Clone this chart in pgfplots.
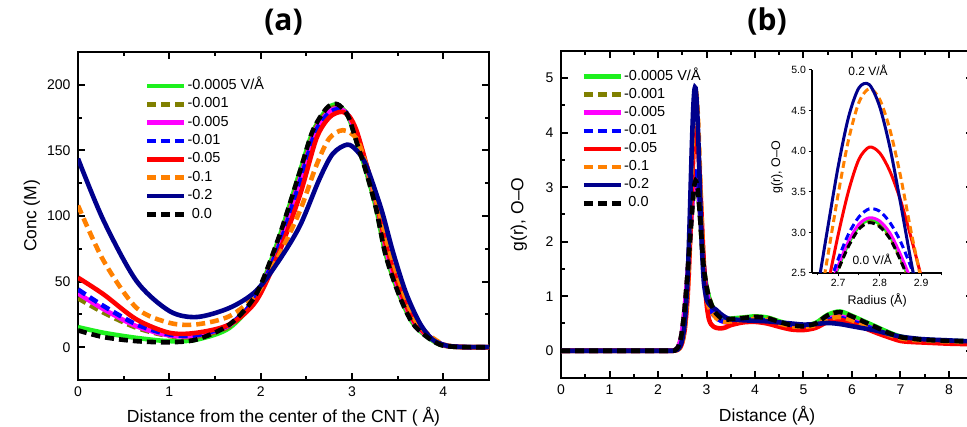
\documentclass[border=0pt]{standalone}
\usepackage{fontspec}
\setmainfont{Liberation Sans}
\newfontfamily\titlefont{Open Sans}
\usepackage{pgfplots}
\usepackage{pgfplotstable}
\pgfplotsset{compat=1.18}

\definecolor{cgreen}{RGB}{30,240,30}
\definecolor{colive}{RGB}{128,128,0}
\definecolor{cmag}{RGB}{255,0,255}
\definecolor{cblue}{RGB}{0,0,255}
\definecolor{cred}{RGB}{255,0,0}
\definecolor{corange}{RGB}{255,128,0}
\definecolor{cnavy}{RGB}{0,0,140}

% ---------------- left panel data ----------------
\pgfplotstableread{
x y
0 15.3
0.28 11
0.64 7.1
1.0 4.6
1.3 5.8
1.66 14.8
1.95 38.5
2.2 83
2.43 134
2.57 164
2.72 181
2.82 185
2.9 181.5
2.97 174
3.05 157
3.155 134
3.264 106
3.37 70.5
3.52 39.5
3.66 19
3.81 8.6
3.96 2.1
4.1 0.4
4.3 0
4.5 0
}\tLgreen
\pgfplotstableread{
x y
0 37.3
0.28 26.3
0.64 14.8
1.0 8.5
1.3 8
1.66 16
1.95 38
2.2 80
2.43 130
2.6 167
2.75 181
2.84 183
2.92 180
2.99 172
3.07 155
3.17 132
3.28 103
3.38 70
3.53 39
3.67 19
3.82 8.5
3.97 2
4.1 0.4
4.3 0
4.5 0
}\tLolive
\pgfplotstableread{
x y
0 41
0.28 29
0.64 16
1.0 9
1.3 9
1.66 17
1.95 38
2.2 78
2.43 128
2.6 165
2.75 179.5
2.85 182
2.93 179
3.0 171
3.08 155
3.18 132
3.29 103
3.39 70
3.54 39
3.68 19
3.83 8.5
3.98 2
4.1 0.5
4.3 0
4.5 0
}\tLmag
\pgfplotstableread{
x y
0 44
0.28 31.4
0.64 17.4
1.0 9.7
1.3 9.2
1.66 17.5
1.95 38
2.2 77
2.43 126
2.6 164
2.75 178.5
2.86 181.5
2.94 178.5
3.01 170
3.09 154
3.19 131
3.3 102
3.4 70
3.55 39
3.69 19
3.84 8.5
3.99 2
4.12 0.5
4.3 0
4.5 0
}\tLblue
\pgfplotstableread{
x y
0 53
0.28 40.3
0.64 21.2
1.0 11
1.3 11
1.66 17.4
1.95 35.2
2.2 72
2.43 116
2.61 159
2.75 175
2.88 179.4
2.97 176
3.05 165
3.155 140
3.27 110
3.38 76
3.53 43
3.67 21
3.82 9.5
3.97 2.5
4.1 0.5
4.3 0
4.5 0
}\tLred
\pgfplotstableread{
x y
0 108
0.28 65.9
0.64 30
1.0 18.6
1.3 17.4
1.66 23.7
1.95 40.3
2.2 70
2.43 104
2.61 138.6
2.75 159
2.9 165.4
3.05 159
3.155 139
3.28 108
3.4 76
3.55 44
3.69 21
3.84 9.5
3.99 2.5
4.12 0.5
4.3 0
4.5 0
}\tLorange
\pgfplotstableread{
x y
0 143.7
0.28 96.5
0.64 50.5
1.0 27.6
1.3 23
1.66 30
1.95 42.9
2.2 66
2.43 92.6
2.645 128.4
2.79 147.5
2.947 154.4
3.05 150
3.155 138.6
3.32 105.4
3.45 72.2
3.59 41.6
3.74 18.6
3.88 5.9
4.03 1.3
4.2 0.2
4.5 0
}\tLnavy
\pgfplotstableread{
x y
0 12.8
0.28 7.7
0.64 4.6
1.0 3.8
1.3 5.9
1.66 17.4
1.95 40.3
2.2 84
2.43 134
2.57 165
2.72 182
2.82 185.5
2.9 182
2.97 174
3.05 156.4
3.155 133.5
3.264 105.4
3.37 69.7
3.52 39
3.66 18.6
3.81 8.4
3.96 2
4.1 0.4
4.3 0
4.5 0
}\tLblack

% ---------------- right panel data ----------------
\pgfplotstableread{
x y
0 0
1 0
2 0
2.3 0
2.35 0.01
2.4 0.05
2.45 0.15
2.5 0.38
2.55 0.78
2.6 1.3
2.625 1.6
2.65 1.93
2.675 2.25
2.7 2.56
2.725 2.86
2.75 3.07
2.775 3.15
2.8 3.10
2.825 2.95
2.85 2.69
2.875 2.38
2.9 2.05
2.925 1.74
2.95 1.49
3.0 1.19
3.05 0.99
3.1 0.86
3.15 0.76
3.2 0.69
3.3 0.61
3.4 0.58
3.5 0.59
3.75 0.61
4.0 0.63
4.25 0.61
4.5 0.54
4.75 0.48
5.0 0.46
5.25 0.51
5.5 0.66
5.75 0.72
6.0 0.64
6.25 0.54
6.5 0.44
6.75 0.34
7.0 0.26
7.25 0.22
7.5 0.2
8.0 0.18
8.5 0.17
}\tRgreen
\pgfplotstableread{
x y
0 0
1 0
2 0
2.3 0
2.35 0.01
2.4 0.05
2.45 0.15
2.5 0.38
2.55 0.78
2.6 1.3
2.625 1.6
2.65 1.92
2.675 2.24
2.7 2.54
2.725 2.84
2.75 3.05
2.775 3.13
2.8 3.08
2.825 2.93
2.85 2.67
2.875 2.36
2.9 2.03
2.925 1.72
2.95 1.48
3.0 1.18
3.05 0.98
3.1 0.85
3.15 0.75
3.2 0.68
3.3 0.6
3.4 0.57
3.5 0.58
3.75 0.6
4.0 0.62
4.25 0.6
4.5 0.53
4.75 0.47
5.0 0.45
5.25 0.5
5.5 0.64
5.75 0.7
6.0 0.62
6.25 0.52
6.5 0.42
6.75 0.32
7.0 0.25
7.25 0.22
7.5 0.2
8.0 0.18
8.5 0.17
}\tRolive
\pgfplotstableread{
x y
0 0
1 0
2 0
2.3 0
2.35 0.01
2.4 0.05
2.45 0.15
2.5 0.38
2.55 0.78
2.6 1.3
2.625 1.62
2.65 1.95
2.675 2.27
2.7 2.59
2.725 2.89
2.75 3.10
2.775 3.18
2.8 3.14
2.825 2.99
2.85 2.73
2.875 2.42
2.9 2.08
2.925 1.75
2.95 1.47
3.0 1.12
3.05 0.9
3.1 0.78
3.15 0.68
3.2 0.62
3.3 0.55
3.4 0.52
3.5 0.52
3.75 0.54
4.0 0.55
4.25 0.53
4.5 0.47
4.75 0.42
5.0 0.41
5.25 0.45
5.5 0.58
5.75 0.63
6.0 0.56
6.25 0.47
6.5 0.38
6.75 0.29
7.0 0.21
7.25 0.18
7.5 0.17
8.0 0.15
8.5 0.14
}\tRmag
\pgfplotstableread{
x y
0 0
1 0
2 0
2.3 0
2.35 0.01
2.4 0.035
2.45 0.11
2.5 0.28
2.55 0.62
2.6 1.15
2.625 1.51
2.65 1.90
2.675 2.30
2.7 2.67
2.725 2.98
2.75 3.19
2.775 3.29
2.8 3.26
2.825 3.12
2.85 2.89
2.875 2.58
2.9 2.23
2.925 1.86
2.95 1.52
3.0 1.05
3.05 0.82
3.1 0.72
3.15 0.65
3.2 0.6
3.3 0.55
3.4 0.53
3.5 0.54
3.75 0.56
4.0 0.57
4.25 0.55
4.5 0.49
4.75 0.44
5.0 0.43
5.25 0.46
5.5 0.56
5.75 0.6
6.0 0.54
6.25 0.46
6.5 0.38
6.75 0.29
7.0 0.22
7.25 0.19
7.5 0.18
8.0 0.16
8.5 0.15
}\tRblue
\pgfplotstableread{
x y
0 0
1 0
2 0
2.3 0
2.35 0.004
2.4 0.015
2.45 0.05
2.5 0.15
2.55 0.38
2.6 0.85
2.625 1.24
2.65 1.74
2.675 2.35
2.7 2.97
2.725 3.51
2.75 3.90
2.775 4.05
2.8 3.98
2.825 3.75
2.85 3.40
2.875 2.95
2.9 2.46
2.925 1.97
2.95 1.53
3.0 0.88
3.05 0.58
3.1 0.48
3.15 0.44
3.2 0.42
3.3 0.41
3.4 0.43
3.5 0.47
3.75 0.52
4.0 0.53
4.25 0.5
4.5 0.44
4.75 0.39
5.0 0.38
5.25 0.42
5.5 0.53
5.75 0.57
6.0 0.5
6.25 0.42
6.5 0.33
6.75 0.25
7.0 0.18
7.25 0.16
7.5 0.15
8.0 0.13
8.5 0.12
}\tRred
\pgfplotstableread{
x y
0 0
1 0
2 0
2.3 0
2.35 0.004
2.4 0.015
2.45 0.05
2.5 0.16
2.55 0.42
2.6 0.95
2.625 1.38
2.65 1.97
2.675 2.71
2.7 3.47
2.725 4.14
2.75 4.60
2.775 4.77
2.8 4.64
2.825 4.26
2.85 3.70
2.875 3.03
2.9 2.42
2.925 1.85
2.95 1.42
3.0 0.98
3.05 0.8
3.1 0.72
3.15 0.66
3.2 0.6
3.3 0.54
3.4 0.53
3.5 0.54
3.75 0.57
4.0 0.58
4.25 0.56
4.5 0.5
4.75 0.45
5.0 0.44
5.25 0.47
5.5 0.58
5.75 0.62
6.0 0.56
6.25 0.47
6.5 0.4
6.75 0.3
7.0 0.23
7.25 0.2
7.5 0.19
8.0 0.17
8.5 0.16
}\tRorange
\pgfplotstableread{
x y
0 0
1 0
2 0
2.3 0
2.35 0.005
2.4 0.02
2.45 0.07
2.5 0.2
2.55 0.5
2.6 1.15
2.625 1.65
2.65 2.3
2.675 3.06
2.7 3.81
2.725 4.42
2.75 4.78
2.775 4.82
2.8 4.55
2.825 4.04
2.85 3.37
2.875 2.66
2.9 2.02
2.925 1.55
2.95 1.22
3.0 0.95
3.05 0.86
3.1 0.81
3.15 0.78
3.2 0.75
3.3 0.67
3.4 0.61
3.5 0.58
3.75 0.56
4.0 0.55
4.25 0.54
4.5 0.52
4.75 0.5
5.0 0.48
5.25 0.49
5.5 0.51
5.75 0.49
6.0 0.45
6.25 0.41
6.5 0.37
6.75 0.31
7.0 0.26
7.25 0.23
7.5 0.21
8.0 0.19
8.5 0.17
}\tRnavy
\pgfplotstableread{
x y
0 0
1 0
2 0
2.3 0
2.35 0.01
2.4 0.05
2.45 0.15
2.5 0.38
2.55 0.78
2.6 1.3
2.625 1.6
2.65 1.92
2.675 2.24
2.7 2.54
2.725 2.83
2.75 3.04
2.775 3.12
2.8 3.07
2.825 2.92
2.85 2.66
2.875 2.35
2.9 2.02
2.925 1.72
2.95 1.48
3.0 1.18
3.05 0.98
3.1 0.85
3.15 0.75
3.2 0.68
3.3 0.6
3.4 0.57
3.5 0.58
3.75 0.6
4.0 0.62
4.25 0.6
4.5 0.53
4.75 0.47
5.0 0.45
5.25 0.5
5.5 0.65
5.75 0.71
6.0 0.63
6.25 0.53
6.5 0.43
6.75 0.33
7.0 0.25
7.25 0.22
7.5 0.2
8.0 0.18
8.5 0.17
}\tRblack

\pgfplotsset{
  mainax/.style={
    scale only axis,
    axis line style={line width=2.5pt},
    tick style={line width=2pt, black},
    major tick length=7pt, minor tick length=4pt,
    tick align=inside,
    /pgf/number format/assume math mode=true,
    ticklabel style={font=\fontsize{14}{14}\selectfont},
    xticklabel shift=3pt, yticklabel shift=4pt,
    label style={font=\fontsize{17.5}{20}\selectfont},
    title style={font=\titlefont\bfseries\fontsize{30}{30}\selectfont, anchor=base},
    legend cell align=left,
    legend image code/.code={\draw[##1] (0pt,0pt) -- (37pt,0pt);},
    legend style={draw=none, fill=none, anchor=north west,
      font=\fontsize{14.5}{14.5}\selectfont,
      nodes={inner xsep=1pt, inner ysep=0pt, text height=10.5pt, text depth=3.5pt},
      /tikz/every even column/.append style={column sep=0pt}},
    clip mode=individual,
  },
  pw/.style={line width=4.6pt},
  pd/.style={line width=4.6pt, dash pattern=on 9pt off 5pt},
  iw/.style={line width=3pt},
  id/.style={line width=3pt, dash pattern=on 7pt off 4pt},
}

\begin{document}
\begin{tikzpicture}
% ===== (a) =====
\begin{axis}[mainax,
  at={(78pt,46pt)}, anchor=south west,
  width=411pt, height=328pt,
  xmin=0, xmax=4.5, ymin=-25, ymax=225,
  xtick={0,1,2,3,4}, minor x tick num=1,
  ytick={0,50,100,150,200}, minor y tick num=1,
  xlabel={Distance from the center of the CNT ( Å)},
  ylabel={Conc (M)},
  xlabel style={at={(axis description cs:0.5,-0.13)}, anchor=base},
  ylabel style={at={(axis description cs:-0.112,0.5)}, anchor=center, rotate=0},
  title={(a)},
  title style={at={(axis description cs:0.5,1.046)}},
  legend style={at={(rel axis cs:0.155,0.925)}, row sep=4.4pt},
]
\addplot[cgreen, pw, smooth] table {\tLgreen}; \addlegendentry{-0.0005 V/Å}
\addplot[colive, pd, smooth] table {\tLolive}; \addlegendentry{-0.001}
\addplot[cmag, pw, smooth] table {\tLmag}; \addlegendentry{-0.005}
\addplot[cblue, pd, smooth] table {\tLblue}; \addlegendentry{-0.01}
\addplot[cred, pw, smooth] table {\tLred}; \addlegendentry{-0.05}
\addplot[corange, pd, smooth] table {\tLorange}; \addlegendentry{-0.1}
\addplot[cnavy, pw, smooth] table {\tLnavy}; \addlegendentry{-0.2}
\addplot[black, pd, smooth] table {\tLblack}; \addlegendentry{\hspace*{4.3pt}0.0}
\end{axis}

% ===== (b) =====
\begin{axis}[mainax,
  at={(561pt,48pt)}, anchor=south west,
  width=412.25pt, height=327pt,
  xmin=0, xmax=8.5, ymin=-0.5, ymax=5.5,
  xtick={0,1,2,3,4,5,6,7,8}, minor x tick num=1,
  ytick={0,1,2,3,4,5}, minor y tick num=1,
  xlabel={Distance (Å)},
  ylabel={g(r), O--O},
  xlabel style={at={(axis description cs:0.5,-0.134)}, anchor=base},
  ylabel style={at={(axis description cs:-0.102,0.5)}, anchor=center},
  title={(b)},
  title style={at={(axis description cs:0.5,1.043)}},
  legend style={at={(rel axis cs:0.042,0.95)}, row sep=4.1pt},
]
\addplot[cgreen, pw, smooth] table {\tRgreen}; \addlegendentry{-0.0005 V/Å}
\addplot[colive, pd, smooth] table {\tRolive}; \addlegendentry{-0.001}
\addplot[cmag, pw, smooth] table {\tRmag}; \addlegendentry{-0.005}
\addplot[cblue, pd, smooth] table {\tRblue}; \addlegendentry{-0.01}
\addplot[cred, pw, smooth] table {\tRred}; \addlegendentry{-0.05}
\addplot[corange, pd, smooth] table {\tRorange}; \addlegendentry{-0.1}
\addplot[cnavy, pw, smooth] table {\tRnavy}; \addlegendentry{-0.2}
\addplot[black, pd, smooth] table {\tRblack}; \addlegendentry{\hspace*{4.3pt}0.0}
\end{axis}

% ===== inset =====
\begin{axis}[
  scale only axis,
  at={(812pt,153pt)}, anchor=south west,
  width=130.3pt, height=203pt,
  xmin=2.637, xmax=2.951, ymin=2.5, ymax=5.0,
  axis x line*=bottom, axis y line*=left,
  axis line style={line width=1.3pt},
  tick style={line width=1pt, black},
  major tick length=3.5pt, minor tick length=2.5pt,
  tick align=outside,
  xtick={2.7,2.8,2.9}, minor xtick={2.65,2.75,2.85,2.95},
  ytick={2.5,3.0,3.5,4.0,4.5,5.0},
  /pgf/number format/assume math mode=true,
  /pgf/number format/fixed, /pgf/number format/fixed zerofill,
  /pgf/number format/precision=1,
  ticklabel style={font=\fontsize{10.5}{10.5}\selectfont},
  xticklabel shift=-1pt, yticklabel shift=-1pt,
  label style={font=\fontsize{12.5}{14}\selectfont},
  xlabel={Radius (Å)},
  ylabel={g(r), O--O},
  xlabel style={at={(axis description cs:0.5,-0.133)}, anchor=center},
  ylabel style={at={(axis description cs:-0.27,0.52)}, anchor=center},
  clip mode=individual,
]
\addplot[cgreen, iw, smooth] table {\tRgreen};
\addplot[colive, id, smooth] table {\tRolive};
\addplot[cmag, iw, smooth] table {\tRmag};
\addplot[cblue, id, smooth] table {\tRblue};
\addplot[cred, iw, smooth] table {\tRred};
\addplot[corange, id, smooth] table {\tRorange};
\addplot[cnavy, iw, smooth] table {\tRnavy};
\addplot[black, id, smooth] table {\tRblack};
\node[font=\fontsize{12}{12}\selectfont] at (axis cs:2.772,4.99) {0.2 V/Å};
\node[font=\fontsize{12}{12}\selectfont] at (axis cs:2.782,2.672) {0.0 V/Å};
\end{axis}

\pgfresetboundingbox
\path[use as bounding box] (0,0) rectangle (967pt,426pt);
\end{tikzpicture}
\end{document}
